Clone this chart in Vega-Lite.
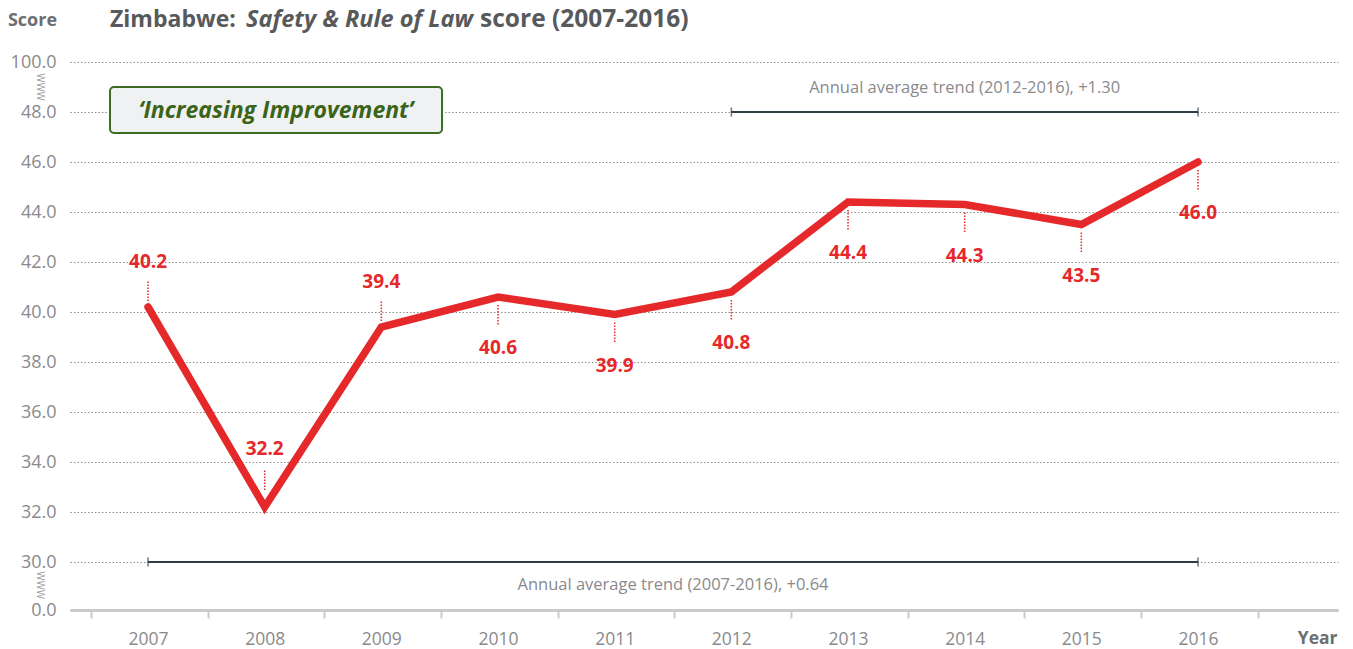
{
  "$schema": "https://vega.github.io/schema/vega-lite/v6.json",
  "autosize": "none",
  "width": 1268,
  "height": 548,
  "padding": {"left": 70, "top": 62, "right": 15, "bottom": 39},
  "background": "#ffffff",
  "config": {"view": {"stroke": null}, "font": "Open Sans"},
  "datasets": {
    "scores": [
      {"year": 2007, "score": 40.2},
      {"year": 2008, "score": 32.2},
      {"year": 2009, "score": 39.4},
      {"year": 2010, "score": 40.6},
      {"year": 2011, "score": 39.9},
      {"year": 2012, "score": 40.8},
      {"year": 2013, "score": 44.4},
      {"year": 2014, "score": 44.3},
      {"year": 2015, "score": 43.5},
      {"year": 2016, "score": 46.0}
    ],
    "trends": [
      {"from": 2007, "to": 2016, "level": 30, "label": "Annual average trend (2007-2016), +0.64", "side": "below"},
      {"from": 2012, "to": 2016, "level": 48, "label": "Annual average trend (2012-2016), +1.30", "side": "above"}
    ],
    "breaks": [
      {"at": 74},
      {"at": 15.6}
    ],
    "one": [{}]
  },
  "layer": [
    {
      "data": {"name": "scores"},
      "mark": {"type": "line", "color": "#e5282a", "strokeWidth": 7.5, "strokeCap": "round", "strokeJoin": "miter"},
      "encoding": {
        "x": {
          "field": "year", "type": "quantitative",
          "scale": {"domain": [2006.331, 2017.2], "nice": false, "zero": false},
          "axis": {
            "values": [2007, 2008, 2009, 2010, 2011, 2012, 2013, 2014, 2015, 2016, 2017],
            "format": "d",
            "labelExpr": "datum.value > 2016 ? '' : datum.label",
            "tickOffset": -57,
            "labelOffset": 57,
            "labelFlush": false,
            "labelOverlap": false,
            "grid": false,
            "domainColor": "#c9cacc",
            "domainWidth": 3,
            "tickColor": "#c9cacc",
            "tickWidth": 2,
            "tickSize": 8,
            "labelColor": "#8a8a8c",
            "labelFontSize": 17.5,
            "labelPadding": 12,
            "title": "Year",
            "titleX": 1267,
            "titleY": 28,
            "titleAlign": "right",
            "titleBaseline": "middle",
            "titleFontSize": 17.5,
            "titleFontWeight": "bold",
            "titleColor": "#6d6e71"
          }
        },
        "y": {
          "field": "score", "type": "quantitative",
          "scale": {"domain": [0, 30, 48, 100], "range": [548, 500, 50, 0], "nice": false, "zero": false},
          "axis": {
            "values": [0, 30, 32, 34, 36, 38, 40, 42, 44, 46, 48, 100],
            "format": ".1f",
            "grid": true,
            "gridDash": [1.5, 2],
            "gridColor": "#8f8f8f",
            "gridWidth": 1,
            "domain": false,
            "ticks": false,
            "labelColor": "#8a8a8c",
            "labelFontSize": 18,
            "labelPadding": 14,
            "labelOverlap": false,
            "title": "Score",
            "titleAngle": 0,
            "titleX": -38,
            "titleY": -42,
            "titleAlign": "center",
            "titleBaseline": "middle",
            "titleFontSize": 18,
            "titleFontWeight": "bold",
            "titleColor": "#6d6e71"
          }
        }
      }
    },
    {
      "data": {"name": "one"},
      "mark": {"type": "rect", "fill": "#f0f1f3", "stroke": "#3e6b21", "strokeWidth": 2, "cornerRadius": 4},
      "encoding": {
        "x": {"datum": 2006.674, "type": "quantitative"},
        "x2": {"datum": 2009.52},
        "y": {"datum": 74, "type": "quantitative"},
        "y2": {"datum": 47.16}
      }
    },
    {
      "data": {"name": "one"},
      "mark": {"type": "text", "text": "‘Increasing Improvement’", "fontSize": 23, "fontWeight": "bold", "fontStyle": "italic", "color": "#3a6418", "align": "center", "baseline": "middle"},
      "encoding": {
        "x": {"datum": 2008.097, "type": "quantitative"},
        "y": {"datum": 49.04, "type": "quantitative"}
      }
    },
    {
      "data": {"name": "trends"},
      "mark": {"type": "rule", "color": "#2f3d45", "strokeWidth": 2},
      "encoding": {
        "x": {"field": "from", "type": "quantitative"},
        "x2": {"field": "to"},
        "y": {"field": "level", "type": "quantitative"}
      }
    },
    {
      "data": {"name": "trends"},
      "mark": {"type": "tick", "orient": "vertical", "color": "#2f3d45", "size": 9, "thickness": 1.5},
      "encoding": {
        "x": {"field": "from", "type": "quantitative"},
        "y": {"field": "level", "type": "quantitative"}
      }
    },
    {
      "data": {"name": "trends"},
      "mark": {"type": "tick", "orient": "vertical", "color": "#2f3d45", "size": 9, "thickness": 1.5},
      "encoding": {
        "x": {"field": "to", "type": "quantitative"},
        "y": {"field": "level", "type": "quantitative"}
      }
    },
    {
      "data": {"name": "trends"},
      "transform": [{"filter": "datum.side == 'below'"}, {"calculate": "(datum.from + datum.to) / 2", "as": "mid"}],
      "mark": {"type": "text", "fontSize": 16.5, "color": "#8a8a8c", "align": "center", "baseline": "middle", "dy": 23},
      "encoding": {
        "x": {"field": "mid", "type": "quantitative"},
        "y": {"field": "level", "type": "quantitative"},
        "text": {"field": "label"}
      }
    },
    {
      "data": {"name": "trends"},
      "transform": [{"filter": "datum.side == 'above'"}, {"calculate": "(datum.from + datum.to) / 2", "as": "mid"}],
      "mark": {"type": "text", "fontSize": 16.5, "color": "#8a8a8c", "align": "center", "baseline": "middle", "dy": -24},
      "encoding": {
        "x": {"field": "mid", "type": "quantitative"},
        "y": {"field": "level", "type": "quantitative"},
        "text": {"field": "label"}
      }
    },
    {
      "data": {"name": "scores"},
      "transform": [{"filter": "datum.year == 2007 || datum.year == 2009"}],
      "mark": {"type": "rule", "color": "#e5282a", "strokeWidth": 1.5, "strokeDash": [1.5, 1.5], "yOffset": -6, "y2Offset": -27},
      "encoding": {
        "x": {"field": "year", "type": "quantitative"},
        "y": {"field": "score", "type": "quantitative"},
        "y2": {"field": "score"}
      }
    },
    {
      "data": {"name": "scores"},
      "transform": [{"filter": "datum.year == 2008"}],
      "mark": {"type": "rule", "color": "#e5282a", "strokeWidth": 1.5, "strokeDash": [1.5, 1.5], "yOffset": -17, "y2Offset": -38},
      "encoding": {
        "x": {"field": "year", "type": "quantitative"},
        "y": {"field": "score", "type": "quantitative"},
        "y2": {"field": "score"}
      }
    },
    {
      "data": {"name": "scores"},
      "transform": [{"filter": "datum.year >= 2010"}],
      "mark": {"type": "rule", "color": "#e5282a", "strokeWidth": 1.5, "strokeDash": [1.5, 1.5], "yOffset": 8, "y2Offset": 28},
      "encoding": {
        "x": {"field": "year", "type": "quantitative"},
        "y": {"field": "score", "type": "quantitative"},
        "y2": {"field": "score"}
      }
    },
    {
      "data": {"name": "scores"},
      "transform": [{"filter": "datum.year == 2007 || datum.year == 2009"}],
      "mark": {"type": "text", "color": "#e5282a", "fontSize": 19, "fontWeight": "bold", "align": "center", "baseline": "middle", "dy": -45},
      "encoding": {
        "x": {"field": "year", "type": "quantitative"},
        "y": {"field": "score", "type": "quantitative"},
        "text": {"field": "score", "type": "quantitative", "format": ".1f"}
      }
    },
    {
      "data": {"name": "scores"},
      "transform": [{"filter": "datum.year == 2008"}],
      "mark": {"type": "text", "color": "#e5282a", "fontSize": 19, "fontWeight": "bold", "align": "center", "baseline": "middle", "dy": -58},
      "encoding": {
        "x": {"field": "year", "type": "quantitative"},
        "y": {"field": "score", "type": "quantitative"},
        "text": {"field": "score", "type": "quantitative", "format": ".1f"}
      }
    },
    {
      "data": {"name": "scores"},
      "transform": [{"filter": "datum.year >= 2010"}],
      "mark": {"type": "text", "color": "#e5282a", "fontSize": 19, "fontWeight": "bold", "align": "center", "baseline": "middle", "dy": 51},
      "encoding": {
        "x": {"field": "year", "type": "quantitative"},
        "y": {"field": "score", "type": "quantitative"},
        "text": {"field": "score", "type": "quantitative", "format": ".1f"}
      }
    },
    {
      "data": {"name": "one"},
      "mark": {"type": "text", "text": "Zimbabwe:", "fontSize": 23, "fontWeight": "bold", "color": "#58595b", "align": "left", "baseline": "middle", "dy": -42},
      "encoding": {
        "x": {"datum": 2006.674, "type": "quantitative"},
        "y": {"datum": 100, "type": "quantitative"}
      }
    },
    {
      "data": {"name": "one"},
      "mark": {"type": "text", "text": "Safety & Rule of Law", "fontSize": 23.5, "fontWeight": "bold", "fontStyle": "italic", "color": "#58595b", "align": "left", "baseline": "middle", "dy": -42},
      "encoding": {
        "x": {"datum": 2007.84, "type": "quantitative"},
        "y": {"datum": 100, "type": "quantitative"}
      }
    },
    {
      "data": {"name": "one"},
      "mark": {"type": "text", "text": "score (2007-2016)", "fontSize": 24.5, "fontWeight": "bold", "color": "#58595b", "align": "left", "baseline": "middle", "dy": -42},
      "encoding": {
        "x": {"datum": 2009.846, "type": "quantitative"},
        "y": {"datum": 100, "type": "quantitative"}
      }
    },
    {
      "data": {"name": "breaks"},
      "mark": {"type": "text", "text": "WWW", "fontSize": 10, "angle": 90, "color": "#9a9a9a", "align": "center", "baseline": "middle"},
      "encoding": {
        "x": {"datum": 2006.074, "type": "quantitative"},
        "y": {"field": "at", "type": "quantitative"}
      }
    }
  ]
}
